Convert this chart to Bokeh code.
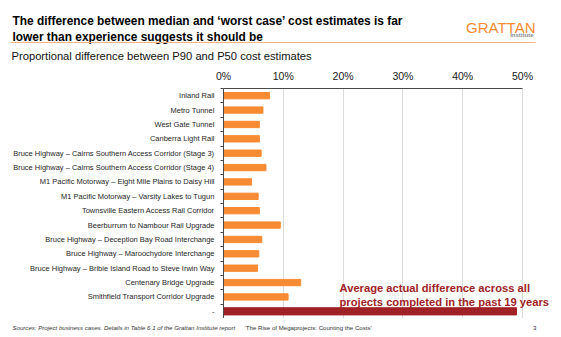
from bokeh.plotting import figure
from bokeh.models import (Range1d, FixedTicker, PrintfTickFormatter, Label, BoxAnnotation)
from bokeh.layouts import column
from bokeh.embed import file_html
from bokeh.resources import INLINE

# ---- data ----
projects = [
    "Inland Rail",
    "Metro Tunnel",
    "West Gate Tunnel",
    "Canberra Light Rail",
    "Bruce Highway \u2013 Cairns Southern Access Corridor (Stage 3)",
    "Bruce Highway \u2013 Cairns Southern Access Corridor (Stage 4)",
    "M1 Pacific Motorway \u2013 Eight Mile Plains to Daisy Hill",
    "M1 Pacific Motorway \u2013 Varsity Lakes to Tugun",
    "Townsville Eastern Access Rail Corridor",
    "Beerburrum to Nambour Rail Upgrade",
    "Bruce Highway \u2013 Deception Bay Road Interchange",
    "Bruce Highway \u2013 Maroochydore Interchange",
    "Bruce Highway \u2013 Bribie Island Road to Steve Irwin Way",
    "Centenary Bridge Upgrade",
    "Smithfield Transport Corridor Upgrade",
]
project_diff = [7.7, 6.6, 6.0, 6.0, 6.3, 7.1, 4.7, 5.8, 6.0, 9.5, 6.4, 5.9, 5.7, 12.9, 10.8]
average_label = "-"
average_diff = 49.0
x_ticks = [0, 10, 20, 30, 40, 50]

title_lines = ["The difference between median and \u2018worst case\u2019 cost estimates is far",
               "lower than experience suggests it should be"]
subtitle = "Proportional difference between P90 and P50 cost estimates"
annotation_lines = ["Average actual difference across all",
                    "projects completed in the past 19 years"]
source_italic = "Sources: Project business cases. Details in Table 6.1 of the Grattan Institute report "
source_regular = "\u2018The Rise of Megaprojects: Counting the Costs\u2019"

ORANGE = "#F68B33"
DARKRED = "#A02226"
FONT = "Liberation Sans"
TXT = "#262626"

labels = projects + [average_label]
n = len(labels)
proj_idx = list(range(len(projects)))
avg_idx = [len(projects)]

W = 561
HEAD_H = 66          # header strip height
FL, FR, FR_EXT = 223, 522, 556   # 0% edge, 50% edge, frame right edge (canvas px)
FT, FB = 88, 318     # frame top / bottom (canvas px)
FOOT_H = 337 - FB


def strip(h):
    f = figure(width=W, height=h, output_backend="svg", toolbar_location=None,
               x_range=Range1d(0, W), y_range=Range1d(0, h),
               x_axis_type=None, y_axis_type=None, title=None,
               min_border=0, min_border_left=0, min_border_right=0,
               min_border_top=0, min_border_bottom=0)
    f.outline_line_color = None
    f.grid.visible = False
    f.frame_align = False
    return f


def add_text(fig, h, text, cx, cy, size, color="#000000", style="normal", align="left", font=FONT):
    fig.add_layout(Label(x=cx, y=h - cy, x_units="screen", y_units="screen", text=text,
                         text_font=font, text_font_size=size, text_color=color,
                         text_font_style=style, text_align=align, text_baseline="alphabetic"))


# ---- header ----
head = strip(HEAD_H)
add_text(head, HEAD_H, title_lines[0], 12, 20, "11.9px", style="bold")
add_text(head, HEAD_H, title_lines[1], 12, 36, "11.9px", style="bold")
add_text(head, HEAD_H, subtitle, 11, 55, "11.2px", color="#111111")
add_text(head, HEAD_H, "GRATTAN", 535, 27, "15px", color=ORANGE, align="right")
add_text(head, HEAD_H, "Institute", 533, 34, "6px", color="#8a8a8a", style="bold", align="right")
head.add_layout(BoxAnnotation(left=10, right=535, top=HEAD_H - 41.5, bottom=HEAD_H - 42.5,
                              left_units="screen", right_units="screen",
                              top_units="screen", bottom_units="screen",
                              fill_color="#F4B183", fill_alpha=1, line_color=None))

# ---- chart ----
x_max = 50 * (FR_EXT - FL) / (FR - FL)
p = figure(width=W, height=FB - HEAD_H, output_backend="svg", toolbar_location=None,
           x_range=Range1d(0, x_max), y_range=Range1d(n - 0.5, -0.5),
           x_axis_location="above", title=None,
           min_border_left=FL, min_border_right=W - FR_EXT,
           min_border_top=FT - HEAD_H, min_border_bottom=0)
p.outline_line_color = None
p.frame_align = False

p.hbar(y=proj_idx, left=0, right=project_diff, height=0.44, color=ORANGE)
p.hbar(y=avg_idx, left=0, right=[average_diff], height=0.5, color=DARKRED)

xa = p.xaxis[0]
xa.ticker = FixedTicker(ticks=x_ticks)
xa.bounds = (x_ticks[0], x_ticks[-1])
xa.formatter = PrintfTickFormatter(format="%d%%")
xa.major_tick_in = 0
xa.major_tick_out = 0
xa.minor_tick_in = 0
xa.minor_tick_out = 0
xa.axis_line_color = "#4a4a4a"
xa.major_label_text_font = FONT
xa.major_label_text_font_size = "10.5px"
xa.major_label_text_color = "#1a1a1a"
xa.major_label_standoff = 7

ya = p.yaxis[0]
ya.ticker = FixedTicker(ticks=list(range(n)), minor_ticks=[i - 0.5 for i in range(n + 1)])
ya.major_label_overrides = {i: lab for i, lab in enumerate(labels)}
ya.major_tick_in = 0
ya.major_tick_out = 0
ya.minor_tick_in = 0
ya.minor_tick_out = 3
ya.minor_tick_line_color = "#4a4a4a"
ya.axis_line_color = "#4a4a4a"
ya.major_label_text_font = FONT
ya.major_label_text_font_size = "7.5px"
ya.major_label_text_color = TXT
ya.major_label_standoff = 6

p.xgrid.ticker = FixedTicker(ticks=x_ticks[1:])
p.xgrid.grid_line_color = "#dcdcdc"
p.ygrid.grid_line_color = None

for k, line in enumerate(annotation_lines):
    p.add_layout(Label(x=339 - FL, y=FB - (287 + 14 * k), x_units="screen", y_units="screen",
                       text=line, text_font=FONT, text_font_size="11.2px", text_color=DARKRED,
                       text_font_style="bold", text_baseline="alphabetic"))

# ---- footer ----
foot = strip(FOOT_H)
add_text(foot, FOOT_H, source_italic, 12, 9, "6.1px", color="#333333", style="italic")
add_text(foot, FOOT_H, source_regular, 244, 9, "6.1px", color="#333333")
add_text(foot, FOOT_H, "3", 536, 9, "6.1px", color="#333333", align="right")

layout = column(head, p, foot, spacing=0)
open("out.html", "w").write(file_html(layout, INLINE))
